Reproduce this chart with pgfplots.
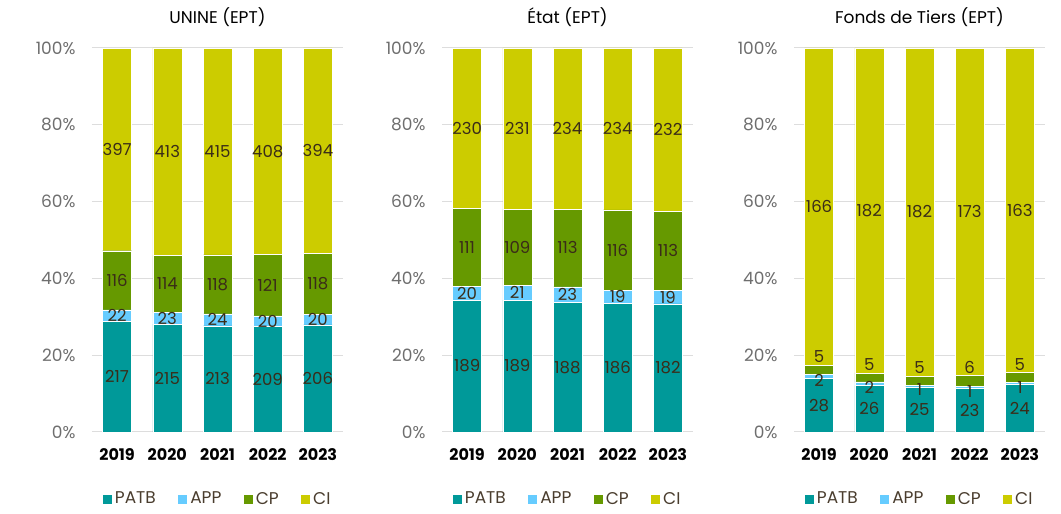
\documentclass[border=0pt]{standalone}
\usepackage{fontspec}
\setmainfont{Poppins}
\usepackage{pgfplots}
\usepackage{pgfplotstable}
\pgfplotsset{compat=1.18}

\definecolor{cPATB}{HTML}{009999}
\definecolor{cAPP}{HTML}{66CCFF}
\definecolor{cCP}{HTML}{669900}
\definecolor{cCI}{HTML}{CCCC00}
\definecolor{lblcol}{HTML}{3A2C18}
\definecolor{legcol}{HTML}{4A3D2E}
\definecolor{tickcol}{HTML}{6E6E6E}
\definecolor{gridcol}{HTML}{DDDDDD}

\pgfplotstableread{
x PATB APP CP CI
0 217 22 116 397
1 215 23 114 413
2 213 24 118 415
3 209 20 121 408
4 206 20 118 394
}\unine
\pgfplotstableread{
x PATB APP CP CI
0 189 20 111 230
1 189 21 109 231
2 188 23 113 234
3 186 19 116 234
4 182 19 113 232
}\etat
\pgfplotstableread{
x PATB APP CP CI
0 28 2 5 166
1 26 2 5 182
2 25 1 5 182
3 23 1 6 173
4 24 1 5 163
}\tiers

\newcommand\tot{(\thisrow{PATB}+\thisrow{APP}+\thisrow{CP}+\thisrow{CI})}

\pgfplotsset{
  geom/.style={
    scale only axis, width=251pt, height=384pt,
    anchor=south west,
    xmin=-0.5, xmax=4.5, ymin=0, ymax=100,
  },
  barax/.style={
    geom,
    ybar stacked, bar width=29pt,
    legend image code/.code={\fill[##1] (0pt,-5pt) rectangle (10pt,5pt);},
    axis line style={draw=none},
    major tick length=0pt,
    ymajorgrids, grid style={draw=gridcol, line width=1pt},
    xtick={0,1,2,3,4}, xticklabels={2019,2020,2021,2022,2023},
    xticklabel style={font=\fontsize{16}{19}\selectfont\bfseries, text=black, yshift=-13pt},
    ytick={0,20,40,60,80,100},
    yticklabel={\pgfmathprintnumber{\tick}\%},
    /pgf/number format/assume math mode=true,
    yticklabel style={font=\fontsize{17}{20}\selectfont, text=tickcol, anchor=east, xshift=-13pt},
    title style={at={(0.5,1)}, anchor=base, yshift=18pt, font=\fontsize{17}{20}\selectfont},
    legend style={at={(0.5,-0.174)}, anchor=center, draw=none, fill=none,
      legend columns=4, font=\fontsize{17}{20}\selectfont, text=legcol,
      nodes={inner sep=2.5pt},
      /tikz/every odd column/.append style={column sep=0pt},
      /tikz/every even column/.append style={column sep=19pt}},
  },
  lblax/.style={
    geom, hide axis, clip=false,
    nodes near coords, point meta=explicit symbolic,
    every node near coord/.append style={anchor=center, font=\fontsize{16.5}{19}\selectfont, text=lblcol, inner sep=0pt},
  },
}

\newcommand{\panel}[5]{%
\begin{axis}[barax, at={(#1,82pt)}, title={#2}]
\addplot[fill=cPATB, draw=white, line width=0.4pt] table[x=x, y expr=100*\thisrow{PATB}/\tot] {#3};
\addlegendentry{PATB}
\addplot[fill=cAPP, draw=white, line width=0.4pt] table[x=x, y expr=100*\thisrow{APP}/\tot] {#3};
\addlegendentry{APP}
\addplot[fill=cCP, draw=white, line width=0.4pt] table[x=x, y expr=100*\thisrow{CP}/\tot] {#3};
\addlegendentry{CP}
\addplot[fill=cCI, draw=white, line width=0.4pt] table[x=x, y expr=100*\thisrow{CI}/\tot] {#3};
\addlegendentry{CI}
\end{axis}
\begin{axis}[lblax, at={(#1,82pt)}]
\addplot[draw=none, mark=none] table[x=x, y expr=50*\thisrow{PATB}/\tot, meta=PATB] {#3};
\addplot[draw=none, mark=none, every node near coord/.append style={yshift=#4}] table[x=x, y expr=100*(\thisrow{PATB}+0.5*\thisrow{APP})/\tot, meta=APP] {#3};
\addplot[draw=none, mark=none, every node near coord/.append style={yshift=#5}] table[x=x, y expr=100*(\thisrow{PATB}+\thisrow{APP}+0.5*\thisrow{CP})/\tot, meta=CP] {#3};
\addplot[draw=none, mark=none] table[x=x, y expr=100*(\thisrow{PATB}+\thisrow{APP}+\thisrow{CP}+0.5*\thisrow{CI})/\tot, meta=CI] {#3};
\end{axis}}

\begin{document}
\begin{tikzpicture}
\useasboundingbox (0,0) rectangle (1061pt,514pt);
\panel{92pt}{UNINE (EPT)}{\unine}{0pt}{0pt}
\panel{442pt}{État (EPT)}{\etat}{0pt}{0pt}
\panel{794pt}{Fonds de Tiers (EPT)}{\tiers}{-4pt}{13pt}
\end{tikzpicture}
\end{document}
